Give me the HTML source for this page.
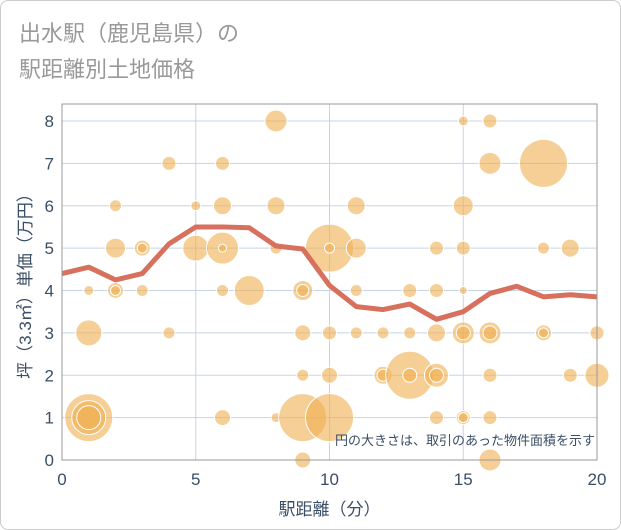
<!DOCTYPE html>
<html><head><meta charset="utf-8">
<style>
body{margin:0;background:#fff;font-family:"Liberation Sans","Noto Sans CJK JP",sans-serif;}
#wrap{position:relative;width:619px;height:528px;border:1px solid #ccc;border-radius:8px;overflow:hidden;}
</style></head>
<body>
<div id="wrap">
<svg id="chart" width="621" height="530">
<text x="18" y="40" font-size="22" fill="#999">出水駅（鹿児島県）の</text>
<text x="18" y="76" font-size="22" fill="#999">駅距離別土地価格</text>
</svg>
</div>
<script>
const xTicks=[0,5,10,15,20];
const yTicks=[0,1,2,3,4,5,6,7,8];
const bubbleX=[1,1,1,1,1,2,2,2,2,3,3,3,4,4,5,5,6,6,6,6,6,6,7,8,8,8,8,9,9,9,9,9,9,10,10,10,10,10,11,11,11,11,12,12,12,13,13,13,13,14,14,14,14,14,14,15,15,15,15,15,15,15,15,16,16,16,16,16,16,16,18,18,18,18,19,19,20,20];
const bubbleY=[4,3,1,1,1,6,5,4,4,5,5,4,7,3,6,5,7,6,5,5,4,1,4,8,6,5,1,4,4,3,2,1,0,5,5,3,2,1,6,5,4,3,3,2,2,4,3,2,2,5,4,3,2,2,1,8,6,5,4,3,3,1,1,8,7,3,3,2,1,0,7,5,3,3,5,2,3,2];
const bubbleR=[5,13,24,17,12,6,10,8,5,8,5,6,7,6,5,13,7,9,16,4,6,8,15,11,9,6,5,10,6,8,6,24,8,24,5,7,8,24,9,10,6,6,6,9,6,7,6,24,7,7,7,9,12,7,7,5,10,7,4,11,7,7,5,7,11,11,7,7,7,11,24,6,8,5,9,7,7,12];
const lineX=[0,1,2,3,4,5,6,7,8,9,10,11,12,13,14,15,16,17,18,19,20];
const lineY=[4.4,4.55,4.25,4.4,5.1,5.5,5.5,5.48,5.05,4.98,4.12,3.62,3.55,3.68,3.32,3.5,3.93,4.1,3.85,3.9,3.85];
const L=61,R=596,T=103,B=459;
const sx=v=>L+(R-L)*v/20;
const sy=v=>B-(B-120)*v/8;
const svg=document.getElementById('chart');
const NS='http://www.w3.org/2000/svg';
function mk(t,a){const e=document.createElementNS(NS,t);for(const k in a)e.setAttribute(k,a[k]);svg.appendChild(e);return e;}
const bg=mk('rect',{x:L,y:T,width:R-L,height:B-T,fill:'#fff'});


yTicks.forEach(v=>{
 const g=mk('line',{x1:L,x2:R,y1:sy(v),y2:sy(v),stroke:'#c5d5e5','stroke-width':1});
 
 
 const t=mk('text',{x:L-8,y:sy(v)+6,'text-anchor':'end','font-size':17,fill:'#3a4f66'});
 t.textContent=v;
 
 
});
xTicks.forEach(v=>{
 const g=mk('line',{x1:sx(v),x2:sx(v),y1:T,y2:B,stroke:'#c5d5e5','stroke-width':1});
 
 
 const t=mk('text',{x:sx(v),y:B+25,'text-anchor':'middle','font-size':17,fill:'#3a4f66'});
 t.textContent=v;
 
 
});
bubbleX.forEach((x,i)=>{
 const c=mk('circle',{cx:sx(x),cy:sy(bubbleY[i]),r:bubbleR[i],fill:'rgba(240,175,80,0.6)',stroke:'#fff','stroke-width':1});
 
 
});
const pts=lineX.map((x,i)=>sx(x)+','+sy(lineY[i])).join(' ');
const pl=mk('polyline',{points:pts,fill:'none',stroke:'#d7705c','stroke-width':5,'stroke-linejoin':'round'});


const fr=mk('rect',{x:L,y:T,width:R-L,height:B-T,fill:'none',stroke:'#999','stroke-width':1});


const note=mk('text',{x:594,y:444,'text-anchor':'end','font-size':13,fill:'#3a4f66'});
note.textContent='円の大きさは、取引のあった物件面積を示す';


const xt=mk('text',{x:(L+R)/2,y:514,'text-anchor':'middle','font-size':17,fill:'#3a4f66'});
xt.textContent='駅距離（分）';


const yt=mk('text',{x:0,y:0,'text-anchor':'middle','font-size':17,fill:'#3a4f66',transform:'translate(30,'+((T+B)/2)+') rotate(-90)'});
yt.textContent='坪（3.3㎡）単価（万円）';


</script>
</body></html>
